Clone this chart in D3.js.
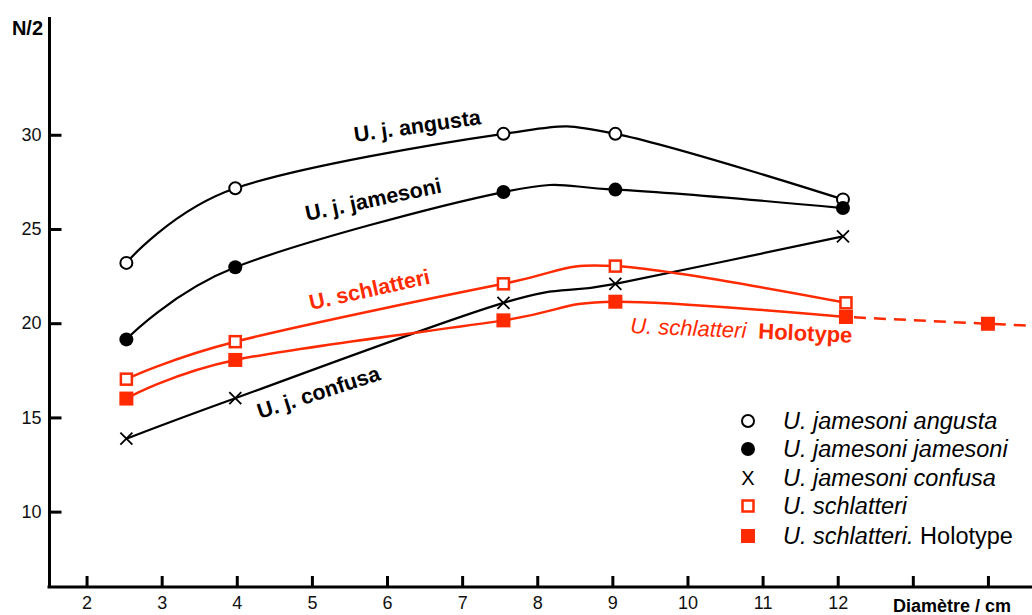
<!DOCTYPE html>
<html>
<head>
<meta charset="utf-8">
<script src="https://cdn.jsdelivr.net/npm/d3@7"></script>
<style>
  body { margin: 0; background: #fff; }
  text { font-family: "Liberation Sans", Arial, sans-serif; }
</style>
</head>
<body>
<div id="chart"></div>
<script>
// data (N/2 against diameter in cm)
var xBlack = [2.53, 3.98, 7.55, 9.04, 12.07];
var xRed = [2.53, 3.98, 7.55, 9.04, 12.11];
var xHoloExtra = 14.0;

var angusta = [23.2, 27.16, 30.05, 30.05, 26.57];
var jamesoni = [19.14, 22.97, 26.96, 27.09, 26.11];
var confusa = [13.87, 16.02, 21.08, 22.09, 24.61];
var schlatteri = [17.03, 19.02, 22.09, 23.03, 21.08];
var holotype = [16.0, 18.05, 20.15, 21.14, 20.33];
var holotypeExtra = 19.97;

var xTicks = [2, 3, 4, 5, 6, 7, 8, 9, 10, 11, 12, 13, 14];
var xTickLabels = ["2", "3", "4", "5", "6", "7", "8", "9", "10", "11", "12", "", ""];
var yTicks = [10, 15, 20, 25, 30];

var legendNames = [
  ["U. jamesoni angusta", ""],
  ["U. jamesoni jamesoni", ""],
  ["U. jamesoni confusa", ""],
  ["U. schlatteri", ""],
  ["U. schlatteri.", " Holotype"]
];

var red = "#ff2a00";

var svgWidth = 1032;
var svgHeight = 615;

var svg = d3.select("#chart")
  .append("svg")
  .attr("width", svgWidth)
  .attr("height", svgHeight);

// scales
var x = d3.scaleLinear().domain([1.5, 14.6]).range([49, 1033]);
var y = d3.scaleLinear().domain([6, 36.25]).range([587, 17]);

function pts(xs, ys) {
  return xs.map(function(v, i) { return [v, ys[i]]; });
}

var line = d3.line()
  .x(d => x(d[0]))
  .y(d => y(d[1]))
  .curve(d3.curveCardinal.tension(0));

// axes
var xAxis = d3.axisBottom(x)
  .tickValues(xTicks)
  .tickFormat((d, i) => xTickLabels[i])
  .tickSize(-11)
  .tickSizeOuter(0)
  .tickPadding(9);

var yAxis = d3.axisLeft(y)
  .tickValues(yTicks)
  .tickSize(-12)
  .tickSizeOuter(0)
  .tickPadding(8);

var gx = svg.append("g")
  .attr("transform", "translate(0, 587)")
  .call(xAxis);

var gy = svg.append("g")
  .attr("transform", "translate(49.5, 0)")
  .call(yAxis);

[gx, gy].forEach(function(g) {
  g.select(".domain").attr("stroke", "#000").attr("stroke-width", 3);
  g.selectAll(".tick line").attr("stroke", "#000").attr("stroke-width", 3);
  g.selectAll(".tick text")
    .attr("fill", "#111")
    .style("font-size", "18px")
    .style("font-family", "Liberation Sans, Arial, sans-serif");
});
gy.select(".domain").attr("d", "M0," + y.range()[0] + "V" + y.range()[1]);
gx.select(".domain").attr("d", "M" + (x.range()[0] - 1.5) + ",0H" + svgWidth);

// axis titles
svg.append("text")
  .attr("x", 43)
  .attr("y", 35)
  .attr("text-anchor", "end")
  .style("font-size", "20px")
  .style("font-weight", "bold")
  .text("N/2");

svg.append("text")
  .attr("x", 1011)
  .attr("y", 612)
  .attr("text-anchor", "end")
  .style("font-size", "18px")
  .style("font-weight", "bold")
  .text("Diamètre / cm");

// curves
var series = [
  { xs: xBlack, ys: angusta, color: "#000", w: 2.2 },
  { xs: xBlack, ys: jamesoni, color: "#000", w: 2.2 },
  { xs: xBlack, ys: confusa, color: "#000", w: 2.2 },
  { xs: xRed, ys: schlatteri, color: red, w: 2.5 },
  { xs: xRed, ys: holotype, color: red, w: 2.5 }
];

series.forEach(function(s) {
  svg.append("path")
    .attr("d", line(pts(s.xs, s.ys)))
    .attr("fill", "none")
    .attr("stroke", s.color)
    .attr("stroke-width", s.w);
});

// dashed continuation of the holotype past 12 cm, carried on to the edge
var last = xRed.length - 1;
var slope = (holotypeExtra - holotype[last]) / (xHoloExtra - xRed[last]);
var xEnd = x.domain()[1];
var dashPts = [
  [xRed[last], holotype[last]],
  [xHoloExtra, holotypeExtra],
  [xEnd, holotypeExtra + slope * (xEnd - xHoloExtra)]
];
svg.append("path")
  .attr("d", d3.line().x(d => x(d[0])).y(d => y(d[1]))(dashPts))
  .attr("fill", "none")
  .attr("stroke", red)
  .attr("stroke-width", 2.5)
  .attr("stroke-dasharray", "12,8")
  .attr("stroke-dashoffset", -8);

// markers
function drawMarker(g, kind, cx, cy) {
  if (kind === "openCircle") {
    g.append("circle").attr("cx", cx).attr("cy", cy).attr("r", 6)
      .attr("fill", "#fff").attr("stroke", "#000").attr("stroke-width", 2);
  } else if (kind === "circle") {
    g.append("circle").attr("cx", cx).attr("cy", cy).attr("r", 7)
      .attr("fill", "#000");
  } else if (kind === "cross") {
    g.append("path")
      .attr("d", "M" + (cx - 6) + "," + (cy - 6) + "L" + (cx + 6) + "," + (cy + 6) +
        "M" + (cx + 6) + "," + (cy - 6) + "L" + (cx - 6) + "," + (cy + 6))
      .attr("stroke", "#000").attr("stroke-width", 1.8).attr("fill", "none");
  } else if (kind === "openSquare") {
    g.append("rect").attr("x", cx - 5.5).attr("y", cy - 5.5)
      .attr("width", 11).attr("height", 11)
      .attr("fill", "#fff").attr("stroke", red).attr("stroke-width", 2.5);
  } else if (kind === "square") {
    g.append("rect").attr("x", cx - 7).attr("y", cy - 7)
      .attr("width", 14).attr("height", 14)
      .attr("fill", red);
  }
}

var kinds = ["openCircle", "circle", "cross", "openSquare", "square"];
var order = [0, 1, 2, 4, 3];
var markerGroup = svg.append("g");

drawMarker(markerGroup, "square", x(xHoloExtra), y(holotypeExtra));
order.forEach(function(i) {
  var s = series[i];
  s.xs.forEach(function(v, j) {
    drawMarker(markerGroup, kinds[i], x(v), y(s.ys[j]));
  });
});

// labels on the curves
function curveLabel(text, lx, ly, angle, color) {
  return svg.append("text")
    .attr("transform", "translate(" + lx + "," + ly + ") rotate(" + angle + ")")
    .attr("fill", color)
    .style("font-size", "21.5px")
    .style("font-weight", "bold")
    .text(text);
}

curveLabel("U. j. angusta", 355, 142, -8, "#000");
curveLabel("U. j. jamesoni", 307, 221, -12, "#000");
curveLabel("U. schlatteri", 311, 310, -12.5, red);
curveLabel("U. j. confusa", 260, 419, -18, "#000");

var holoLabel = svg.append("text")
  .attr("transform", "translate(630, 333) rotate(2.5)")
  .attr("fill", red)
  .style("font-size", "22px");
holoLabel.append("tspan").style("font-style", "italic").text("U. schlatteri");
holoLabel.append("tspan").attr("dx", 12).style("font-weight", "bold").text("Holotype");

// legend
var legendY = [421, 449, 478, 506, 536];
var legendKinds = ["openCircle", "circle", "legendCross", "openSquare", "square"];
var legend = svg.append("g");

legendNames.forEach(function(n, i) {
  var k = legendKinds[i];
  if (k === "legendCross") {
    legend.append("text")
      .attr("x", 748).attr("y", legendY[i] + 7)
      .attr("text-anchor", "middle")
      .style("font-size", "20px")
      .text("X");
  } else {
    drawMarker(legend, k, 748, legendY[i]);
  }
  var t = legend.append("text")
    .attr("x", 783)
    .attr("y", legendY[i] + 8)
    .style("font-size", "23.5px");
  t.append("tspan").style("font-style", "italic").text(n[0]);
  if (n[1]) t.append("tspan").text(n[1]);
});
</script>
</body>
</html>
